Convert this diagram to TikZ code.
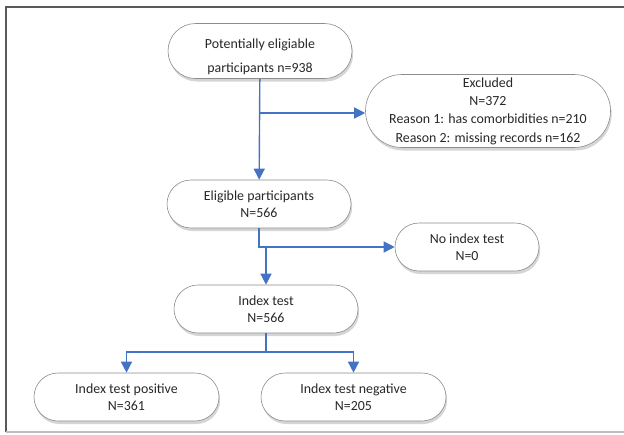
\documentclass[tikz,border=0pt]{standalone}
\usepackage{fontspec}
\setmainfont{Carlito}
\usepackage{xcolor}
\usetikzlibrary{shapes.misc,shadows,arrows.meta}
\definecolor{flowblue}{RGB}{68,114,196}
\definecolor{boxline}{RGB}{140,140,140}
\definecolor{boxtext}{RGB}{40,40,40}

\begin{document}
\begin{tikzpicture}[x=1pt,y=-1pt,
    stage/.style={rounded rectangle, draw=boxline, line width=0.6pt, fill=white,
      drop shadow={shadow xshift=1.2pt, shadow yshift=-3pt, fill=gray!65},
      minimum width=184pt, minimum height=48pt, inner sep=0pt,
      align=center, text=boxtext, font=\fontsize{13.9}{17}\selectfont},
    flow/.style={draw=flowblue, line width=1.4pt},
    >={Triangle[length=11pt,width=11pt]}]
      \useasboundingbox (0,0) rectangle (624,434);
      % frame
      \draw [line width=1.5pt, black!65] (6,432) -- (6,7) -- (624,7);
      \draw [line width=1.5pt, black!25] (6,432) -- (624,432);
      % boxes
      \node [stage, minimum height=55pt, font=\fontsize{13.9}{24}\selectfont] (pool) at (260,51) {\rule{0pt}{21pt}Potentially eligiable\\participants n=938};
      \node [stage, minimum width=245pt, minimum height=73pt, font=\fontsize{13.9}{18.3}\selectfont] (excl) at (488,111) {Excluded\\N=372\\Reason 1: has comorbidities n=210\\Reason 2: missing records n=162};
      \node [stage] (elig) at (259,204) {Eligible participants\\N=566};
      \node [stage, minimum width=144pt] (noidx) at (467,247) {No index test\\N=0};
      \node [stage] (idx) at (266,309) {Index test\\N=566};
      \node [stage, minimum width=185pt] (pos) at (126.5,397) {Index test positive\\N=361};
      \node [stage, minimum width=185pt] (neg) at (353.5,397) {Index test negative\\N=205};
      % connectors
      \coordinate (b1) at (260,113);
      \coordinate (b2) at (259,247);
      \coordinate (b3) at (266,352);
      \draw [flow,->] (pool) -- (elig);
      \draw [flow,->] (b1) -- (b1 -| excl.west);
      \draw [flow,->] (elig.south) |- (noidx.west);
      \draw [flow,->] (b2) -| (idx.north);
      \draw [flow] (idx.south) -- (b3);
      \draw [flow,->] (b3) -| (pos.north);
      \draw [flow,->] (b3) -| (neg.north);
    \end{tikzpicture}
\end{document}
